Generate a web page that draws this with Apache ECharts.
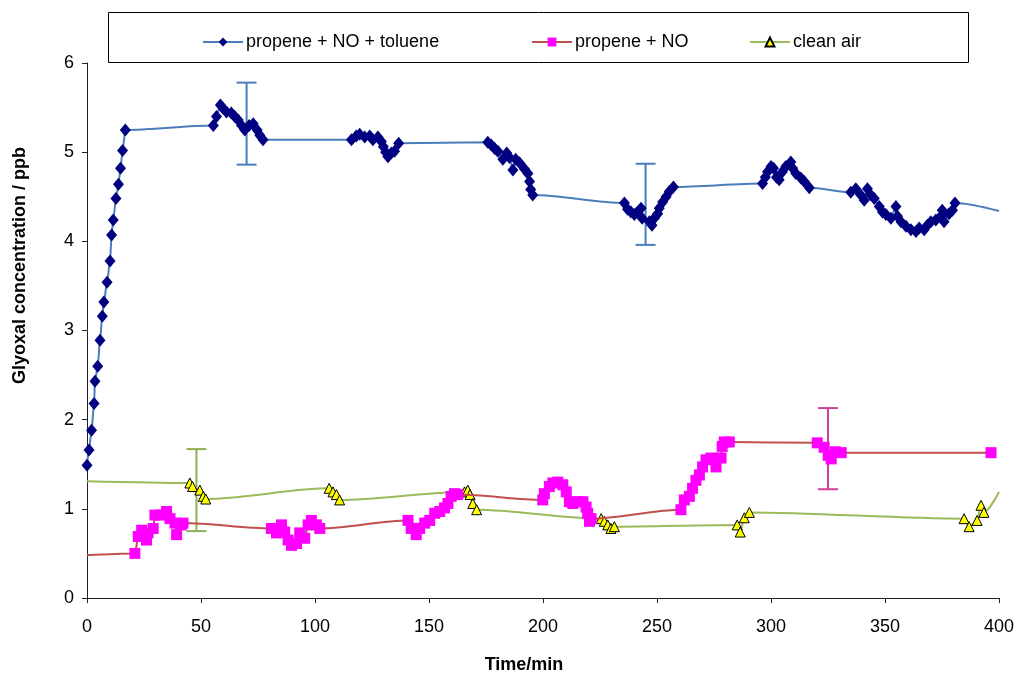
<!DOCTYPE html>
<html><head><meta charset="utf-8">
<script src="https://cdn.jsdelivr.net/npm/echarts@6/dist/echarts.min.js"></script>
<style>html,body{margin:0;padding:0;background:#fff}#c{width:1017px;height:682px}</style>
</head><body><div id="c"></div>
<script>
// ---- data ----
const nameBlue = 'propene + NO + toluene';
const namePink = 'propene + NO';
const nameGreen = 'clean air';

const blueTime = [0,0.9,2.0,3.1,3.5,4.7,5.7,6.7,7.4,8.8,10.1,10.8,11.5,12.7,13.8,14.7,15.6,16.8,
  55.4,56.8,58.5,59.7,61.2,63.3,64.8,66.3,67.8,69.2,71.1,72.9,74.6,75.8,77.2,
  116,118.1,119.6,121.8,124,125.4,127.6,129.1,130.0,131.0,132,133.5,134.9,136.7,
  175.8,177.3,178.8,180.2,182.4,184.1,185.3,186.8,188,189.7,191.9,193.4,194.1,194.6,195.5,
  235.7,237.1,238.6,240.1,241.5,243,243.5,246.7,247.8,248.8,250.3,251,252.5,254,255.4,257.2,
  296.3,297.5,298.5,300,301.1,302.4,303.6,305,306.5,308.7,309.5,310.9,313.1,314.6,316.8,
  335,337.2,339.4,340.9,342.3,343.8,345.3,347.5,348.9,350.4,352.6,354.8,355.5,357,359.2,361.4,363.6,365,367.2,368.6,370.1,372.3,374.5,375.1,375.9,378.1,379.6,380.7];
const blueConc = [1.49,1.66,1.88,2.18,2.43,2.60,2.89,3.16,3.32,3.54,3.78,4.07,4.24,4.48,4.64,4.82,5.02,5.25,
  5.30,5.40,5.53,5.49,5.45,5.44,5.40,5.36,5.30,5.25,5.30,5.32,5.25,5.19,5.14,
  5.14,5.18,5.20,5.17,5.18,5.14,5.17,5.12,5.06,5.00,4.95,4.99,5.01,5.10,
  5.11,5.08,5.04,5.01,4.92,4.99,4.94,4.80,4.92,4.88,4.81,4.76,4.67,4.58,4.52,
  4.43,4.36,4.33,4.30,4.33,4.37,4.26,4.22,4.18,4.26,4.31,4.37,4.44,4.50,4.56,4.61,
  4.65,4.72,4.78,4.84,4.82,4.72,4.69,4.78,4.84,4.89,4.82,4.76,4.71,4.67,4.60,
  4.55,4.59,4.52,4.46,4.59,4.52,4.48,4.39,4.33,4.30,4.26,4.39,4.28,4.22,4.17,4.13,4.11,4.15,4.13,4.18,4.22,4.24,4.28,4.35,4.22,4.31,4.35,4.43];
const blueLineEnd = [400, 4.34];

const pinkTime = [21,22.5,24,26.1,26.8,29,29.8,32,34.9,36.4,38.6,39.3,41.4,42.1,
  80.9,83.1,85.3,86.7,88.2,89.7,91.9,93.3,95.5,97,98.4,100.6,102.1,
  140.8,142.2,144.4,145.9,148.1,150.3,152.5,154.7,156.8,158.3,159.7,161.2,162.6,
  199.9,200.6,202.8,204.3,206.5,208.7,210.2,211.6,213.1,215.3,217.5,218.9,219.6,220.4,221.1,
  260.5,262,264.2,265.6,267.1,268.6,270,271.5,273.7,275.9,278.1,278.6,279.5,281.7,
  320.3,323.3,325.1,326.4,328.2,330.8,
  396.5];
const pinkConc = [0.50,0.69,0.76,0.65,0.73,0.78,0.93,0.93,0.97,0.89,0.84,0.71,0.82,0.84,
  0.78,0.73,0.82,0.74,0.65,0.59,0.61,0.73,0.67,0.82,0.87,0.82,0.78,
  0.87,0.78,0.71,0.78,0.84,0.87,0.95,0.97,1.01,1.06,1.14,1.17,1.16,
  1.10,1.17,1.25,1.29,1.30,1.27,1.19,1.08,1.06,1.08,1.08,1.02,0.95,0.86,0.89,
  0.99,1.10,1.14,1.23,1.32,1.38,1.47,1.55,1.57,1.47,1.57,1.70,1.75,1.75,
  1.74,1.69,1.60,1.56,1.64,1.63,
  1.63];
const pinkLineStart = [0, 0.48];

const greenTime = [45.1,46.3,49.5,51,52.1,
  106.2,107.9,109.4,110.8,
  165.6,167,168,169.2,170.9,
  225.5,226.9,228.4,229.8,231.3,
  285.2,286.5,288.3,290.5,
  384.7,386.9,390.4,392.1,393.4];
const greenConc = [1.29,1.25,1.21,1.14,1.11,
  1.23,1.19,1.16,1.10,
  1.19,1.21,1.16,1.06,0.99,
  0.89,0.86,0.82,0.78,0.80,
  0.82,0.74,0.90,0.96,
  0.89,0.80,0.87,1.04,0.96];
const greenLineStart = [0, 1.31];
const greenLineEnd = [400, 1.19];

// error bars: [time, low, high]
const errBlue = [[70, 4.86, 5.78], [245, 3.96, 4.87]];
const errPink = [[325, 1.22, 2.13]];
const errGreen = [[48, 0.75, 1.67]];

const xTicks = {min: 0, max: 400, step: 50};
const yTicks = {min: 0, max: 6, step: 1};

// ---- build ----
function pts(ts, vs, start, end) {
  const out = [];
  if (start) out.push({value: start, symbol: 'none'});
  ts.forEach((t, i) => out.push({value: [t, vs[i]]}));
  if (end) out.push({value: end, symbol: 'none'});
  return out;
}

const FONT = '"Liberation Sans", Arial, sans-serif';

function errSeries(data, color) {
  return {
    type: 'custom',
    silent: true,
    z: 1,
    data: data,
    encode: {x: 0, y: [1, 2]},
    renderItem: function (params, api) {
      const x = api.value(0);
      const lo = api.coord([x, api.value(1)]);
      const hi = api.coord([x, api.value(2)]);
      const hw = 10;
      const st = {stroke: color, lineWidth: 2};
      return {
        type: 'group',
        children: [
          {type: 'line', shape: {x1: lo[0], y1: lo[1], x2: hi[0], y2: hi[1]}, style: st},
          {type: 'line', shape: {x1: lo[0] - hw, y1: lo[1], x2: lo[0] + hw, y2: lo[1]}, style: st},
          {type: 'line', shape: {x1: hi[0] - hw, y1: hi[1], x2: hi[0] + hw, y2: hi[1]}, style: st}
        ]
      };
    }
  };
}

const chart = echarts.init(document.getElementById('c'), null, {renderer: 'canvas'});
const legendText = {fontSize: 18, color: '#000', fontFamily: FONT, padding: [0, 0, 0, -2]};
const option = {
  animation: false,
  textStyle: {fontFamily: FONT},
  grid: {left: 87, right: 17, top: 63, bottom: 84, containLabel: false},
  graphic: [{
    type: 'rect', shape: {x: 108.5, y: 12.5, width: 860, height: 50},
    style: {fill: 'none', stroke: '#000', lineWidth: 1}, z: 0
  }],
  legend: [
    {data: [nameBlue], left: 197, top: 28, itemWidth: 40, itemHeight: 11, itemGap: 0, textStyle: legendText},
    {data: [namePink], left: 526, top: 28, itemWidth: 40, itemHeight: 11, itemGap: 0, textStyle: legendText},
    {data: [nameGreen], left: 744, top: 28, itemWidth: 40, itemHeight: 11, itemGap: 0, textStyle: legendText}
  ],
  xAxis: {
    type: 'value', min: xTicks.min, max: xTicks.max, interval: xTicks.step,
    name: 'Time/min', nameLocation: 'middle', nameGap: 58,
    nameTextStyle: {fontWeight: 'bold', fontSize: 18, color: '#000', fontFamily: FONT, padding: [0, 38, 0, 0]},
    axisLine: {show: true, lineStyle: {color: '#222', width: 1}},
    axisTick: {show: true, inside: false, length: 5, lineStyle: {color: '#222'}},
    axisLabel: {fontSize: 18, color: '#000', margin: 20, fontFamily: FONT},
    splitLine: {show: false}
  },
  yAxis: {
    type: 'value', min: yTicks.min, max: yTicks.max, interval: yTicks.step,
    name: 'Glyoxal concentration / ppb', nameLocation: 'middle', nameGap: 58,
    nameTextStyle: {fontWeight: 'bold', fontSize: 18, color: '#000', fontFamily: FONT, padding: [0, 0, 0, 130]},
    axisLine: {show: true, lineStyle: {color: '#222', width: 1}},
    axisTick: {show: true, inside: false, length: 5, lineStyle: {color: '#222'}},
    axisLabel: {fontSize: 18, color: '#000', margin: 13, fontFamily: FONT},
    splitLine: {show: false}
  },
  series: [
    errSeries(errBlue, '#4a7ebb'),
    errSeries(errPink, '#d0409a'),
    errSeries(errGreen, '#8db052'),
    {
      name: nameGreen, type: 'line', z: 3,
      data: pts(greenTime, greenConc, greenLineStart, greenLineEnd),
      smooth: 0.3, smoothMonotone: 'x',
      showSymbol: true, showAllSymbol: true,
      symbol: 'triangle', symbolSize: 10,
      lineStyle: {color: '#9bbb59', width: 2},
      itemStyle: {color: '#ffff00', borderColor: '#000', borderWidth: 1}
    },
    {
      name: namePink, type: 'line', z: 4,
      data: pts(pinkTime, pinkConc, pinkLineStart, null),
      smooth: 0.3, smoothMonotone: 'x',
      showSymbol: true, showAllSymbol: true,
      symbol: 'rect', symbolSize: 11,
      lineStyle: {color: '#c0504d', width: 2},
      itemStyle: {color: '#ff00ff', borderWidth: 0}
    },
    {
      name: nameBlue, type: 'line', z: 5,
      data: pts(blueTime, blueConc, null, blueLineEnd),
      smooth: 0.3, smoothMonotone: 'x',
      showSymbol: true, showAllSymbol: true,
      symbol: 'diamond', symbolSize: [11, 13],
      lineStyle: {color: '#4a7ebb', width: 2},
      itemStyle: {color: '#000080', borderWidth: 0}
    }
  ]
};
chart.setOption(option);
</script>
</body></html>
